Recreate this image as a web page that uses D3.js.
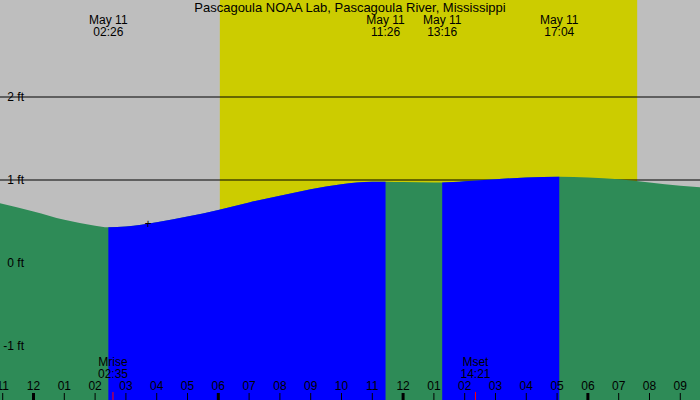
<!DOCTYPE html>
<html>
<head>
<script src="https://cdn.jsdelivr.net/npm/d3@7"></script>
<style>body{margin:0;background:#fff}</style>
</head>
<body>
<div id="chart"></div>
<script>
// tide height (ft) by hour from midnight May 11
const tideHours = [-1.1, 0, 1, 2, 2.43, 3, 4, 5, 6, 7, 8, 9, 10, 11, 11.43, 12, 13, 13.27, 14, 15, 16, 17.07, 18, 19, 20, 21, 21.7];
const tideFeet  = [0.72, 0.62, 0.52, 0.45, 0.43, 0.44, 0.49, 0.56, 0.64, 0.73, 0.81, 0.89, 0.95, 0.98, 0.98, 0.975, 0.97, 0.97, 0.985, 1.01, 1.03, 1.04, 1.03, 1.01, 0.97, 0.93, 0.91];
const risingSpans = [[2.43, 11.43], [13.27, 17.07]];
const daylight = [6.05, 19.6];
const extremes = [[2.43, "02:26"], [11.43, "11:26"], [13.27, "13:16"], [17.07, "17:04"]];
const moonEvents = [[2.58, "Mrise", "02:35"], [14.35, "Mset", "14:21"]];
const feetTicks = [2, 1, 0, -1];
const hourTicks = d3.range(-1, 22);

const W = 700, H = 400;
const x = d3.scaleLinear().domain([-1.088, 21.64]).range([0, W]);
const y = d3.scaleLinear().domain([0, 1]).range([263, 180]);
const font = "Liberation Sans, Arial, sans-serif";

const svg = d3.select("#chart").append("svg").attr("width", W).attr("height", H)
  .style("font-family", font).style("font-size", "12px");

svg.append("rect").attr("width", W).attr("height", H).attr("fill", "#bebebe");
svg.append("rect").attr("x", x(daylight[0])).attr("width", x(daylight[1]) - x(daylight[0]))
  .attr("y", 0).attr("height", H).attr("fill", "#cccc00");

feetTicks.forEach(f => svg.append("line").attr("x1", 0).attr("x2", W)
  .attr("y1", y(f)).attr("y2", y(f)).attr("stroke", "#000"));

const pts = tideHours.map((h, i) => [h, tideFeet[i]]);
const area = d3.area().curve(d3.curveMonotoneX).x(d => x(d[0])).y0(H).y1(d => y(d[1]));
svg.append("path").datum(pts).attr("d", area).attr("fill", "#2e8b57");
risingSpans.forEach(([a, b]) => {
  svg.append("clipPath").attr("id", "c" + a).append("rect")
    .attr("x", x(a)).attr("width", x(b) - x(a)).attr("y", 0).attr("height", H);
  svg.append("path").datum(pts).attr("d", area).attr("fill", "#0000ff")
    .attr("clip-path", "url(#c" + a + ")");
});

feetTicks.forEach(f => svg.append("text").attr("x", 24).attr("y", y(f) + 4)
  .attr("text-anchor", "end").text(f + " ft"));

svg.append("text").attr("x", 350).attr("y", 12).attr("text-anchor", "middle")
  .style("font-size", "13px").text("Pascagoula NOAA Lab, Pascagoula River, Mississippi");
extremes.forEach(([h, t]) => {
  svg.append("text").attr("x", x(h)).attr("y", 24).attr("text-anchor", "middle").text("May 11");
  svg.append("text").attr("x", x(h)).attr("y", 36).attr("text-anchor", "middle").text(t);
});
moonEvents.forEach(([h, a, t]) => {
  svg.append("text").attr("x", x(h)).attr("y", 366).attr("text-anchor", "middle").text(a);
  svg.append("text").attr("x", x(h)).attr("y", 378).attr("text-anchor", "middle").text(t);
  svg.append("line").attr("x1", x(h)).attr("x2", x(h)).attr("y1", 392).attr("y2", 400).attr("stroke", "red");
});
svg.append("text").attr("x", 148).attr("y", 228).attr("text-anchor", "middle").text("+");

hourTicks.forEach(h => {
  const hh = ((h % 12) + 12) % 12 || 12;
  svg.append("text").attr("x", x(h)).attr("y", 390).attr("text-anchor", "middle").text(d3.format("02")(hh));
  svg.append("line").attr("x1", x(h)).attr("x2", x(h)).attr("y1", 393).attr("y2", 400)
    .attr("stroke", "#000").attr("stroke-width", h % 6 === 0 ? 3 : 1);
});
</script>
</body>
</html>
